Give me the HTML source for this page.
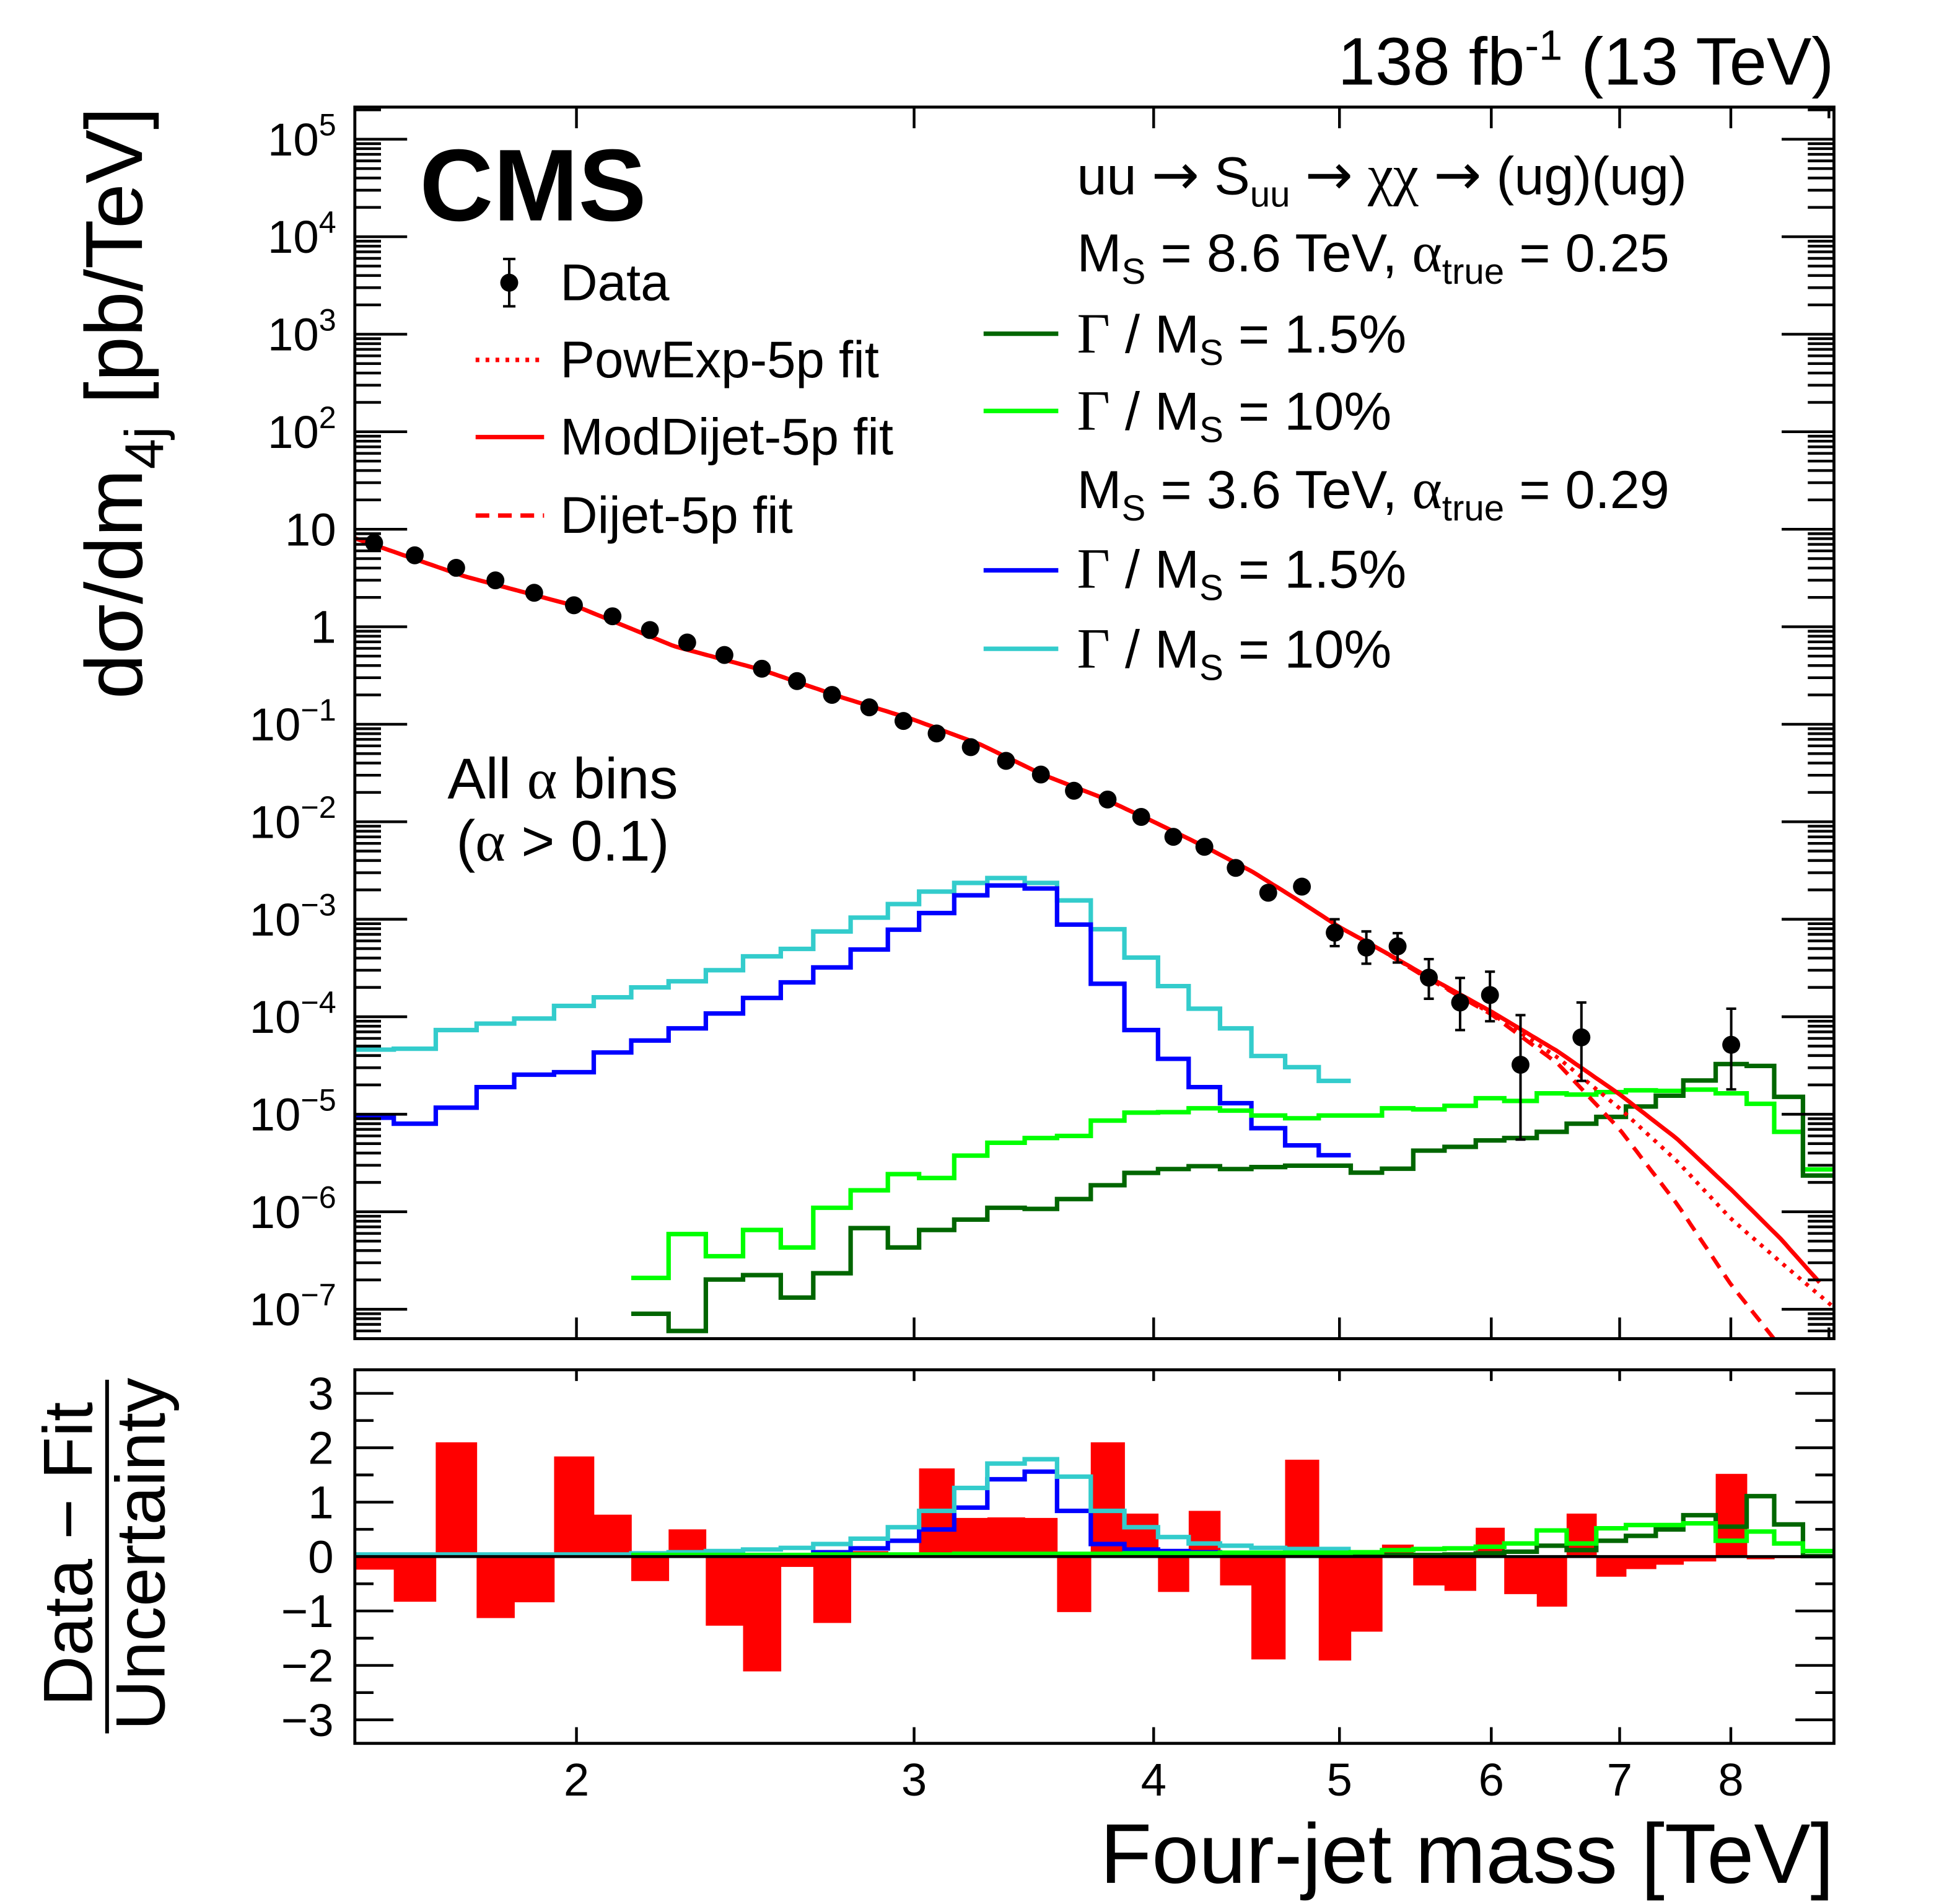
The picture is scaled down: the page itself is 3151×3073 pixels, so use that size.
<!DOCTYPE html>
<html><head><meta charset="utf-8">
<style>
html,body{margin:0;padding:0;background:#fff;}
svg{display:block;}
text{font-family:"Liberation Sans",Arial,sans-serif;fill:#000;}
.serif{font-family:"Liberation Serif","DejaVu Serif",serif;}
.arr{font-family:"DejaVu Sans",sans-serif;}
</style></head>
<body>
<svg id="chart" width="3151" height="3073" viewBox="0 0 1567.8 1529.0" xmlns="http://www.w3.org/2000/svg">
<defs>
<clipPath id="clipTop"><rect x="285" y="86" width="1188" height="989"/></clipPath>
<clipPath id="clipBot"><rect x="285" y="1100" width="1188" height="300"/></clipPath>
</defs>
<g id="gTop"></g>
<g id="gBot"></g>
<g id="gText">
<text x="1473" y="68" font-size="54" text-anchor="end">138 fb<tspan dy="-20" font-size="34">-1</tspan><tspan dy="20"> (13 TeV)</tspan></text>
<text x="337" y="177" font-size="82" font-weight="bold">CMS</text>
<text transform="translate(114,86) rotate(-90)" font-size="65" text-anchor="end">dσ/dm<tspan dy="17" font-size="44">4j</tspan><tspan dy="-17"> [pb/TeV]</tspan></text>
<text x="1473" y="1512" font-size="68" text-anchor="end">Four-jet mass [TeV]</text>
<text transform="translate(74,1248) rotate(-90)" font-size="56" text-anchor="middle">Data − Fit</text>
<line x1="86" y1="1108" x2="86" y2="1392" stroke="#000" stroke-width="3"/>
<text transform="translate(132,1248) rotate(-90)" font-size="56" text-anchor="middle">Uncertainty</text>
<text x="452" y="641" font-size="46" text-anchor="middle">All <tspan class="serif">α</tspan> bins</text>
<text x="452" y="691" font-size="46" text-anchor="middle">(<tspan class="serif">α</tspan> &gt; 0.1)</text>
</g>
<g id="gLegend"></g>
</svg>
<script>
// ---- data arrays ----
const binEdges = [1.532,1.606,1.689,1.774,1.856,1.947,2.042,2.136,2.234,2.336,2.443,2.556,2.658,2.780,2.907,3.018,3.148,3.276,3.426,3.562,3.709,3.862,4.021,4.172,4.332,4.498,4.684,4.877,5.068,5.262,5.463,5.672,5.889,6.094,6.337,6.568,6.806,7.053,7.311,7.556,7.856,8.154,8.427,8.724,9.05];
const dataVals = [7.24,5.40,4.02,2.99,2.23,1.66,1.28,0.925,0.689,0.513,0.371,0.277,0.200,0.149,0.108,0.0804,0.0582,0.0421,0.0305,0.0208,0.0169,0.0112,0.0070,0.00553,0.00336,0.00187,0.00216,7.28e-4,5.12e-4,5.27e-4,2.52e-4,1.40e-4,1.67e-4,3.22e-5,null,6.15e-5,null,null,null,null,5.16e-5,null,null,null];
const dataHi = [null,null,null,null,null,null,null,null,null,null,null,null,null,null,null,null,null,null,null,null,null,null,null,null,null,null,null,1.0e-3,7.5e-4,7.2e-4,3.9e-4,2.5e-4,2.9e-4,1.04e-4,null,1.4e-4,null,null,null,null,1.21e-4,null,null,null];
const dataLo = [null,null,null,null,null,null,null,null,null,null,null,null,null,null,null,null,null,null,null,null,null,null,null,null,null,null,null,5.3e-4,3.5e-4,3.6e-4,1.53e-4,7.3e-5,9.0e-5,5.5e-6,null,2.2e-5,null,null,null,null,1.8e-5,null,null,null];
const fitMass = [1.532,1.75,2,2.25,2.5,2.75,3,3.25,3.5,3.75,4,4.25,4.5,4.75,5,5.25,5.5,6,6.5,7,7.5,8,8.5,9.05];
const fitModDijet = [8.1,3.27,1.62,0.63,0.36,0.189,0.111,0.0618,0.0305,0.018,0.0100,5.6e-3,3.1e-3,1.6e-3,8.3e-4,4.9e-4,2.9e-4,1.13e-4,4.4e-5,1.6e-5,5.6e-6,1.7e-6,5.2e-7,1.3e-7];
const fitPowExp = [8.1,3.27,1.62,0.63,0.36,0.189,0.111,0.0618,0.0305,0.018,0.0100,5.6e-3,3.1e-3,1.6e-3,8.3e-4,4.9e-4,2.85e-4,1.08e-4,3.8e-5,1.15e-5,3.3e-6,8.5e-7,3.0e-7,1.05e-7];
const fitDijet = [8.1,3.27,1.62,0.63,0.36,0.189,0.111,0.0618,0.0305,0.018,0.0100,5.6e-3,3.1e-3,1.6e-3,8.3e-4,4.9e-4,2.8e-4,1.06e-4,3.3e-5,7.0e-6,1.2e-6,1.8e-7,4.0e-8,5.0e-9];
const fitEndMass = [8.9, 9.03, 9.05];
// signals: start bin index + values
const cyanStart = 0;
const cyanVals = [4.6e-5,4.7e-5,7.3e-5,8.5e-5,9.6e-5,1.29e-4,1.58e-4,2.0e-4,2.31e-4,3.0e-4,4.16e-4,4.97e-4,7.5e-4,1.04e-3,1.43e-3,1.92e-3,2.36e-3,2.65e-3,2.36e-3,1.56e-3,7.9e-4,4.04e-4,2.06e-4,1.21e-4,7.6e-5,3.96e-5,3.04e-5,2.2e-5];
const blueStart = 0;
const blueVals = [9.2e-6,8.0e-6,1.17e-5,1.9e-5,2.55e-5,2.7e-5,4.3e-5,5.7e-5,7.6e-5,1.08e-4,1.56e-4,2.25e-4,3.2e-4,4.9e-4,7.8e-4,1.16e-3,1.76e-3,2.22e-3,2.07e-3,8.8e-4,2.18e-4,7.3e-5,3.7e-5,1.9e-5,1.3e-5,7.2e-6,4.8e-6,3.8e-6];
const lgreenStart = 7;
const lgreenVals = [2.1e-7,5.9e-7,3.5e-7,6.5e-7,4.3e-7,1.1e-6,1.66e-6,2.43e-6,2.22e-6,3.77e-6,5.1e-6,5.7e-6,6.0e-6,8.6e-6,1.04e-5,1.05e-5,1.15e-5,1.09e-5,9.7e-6,9.1e-6,9.7e-6,9.7e-6,1.15e-5,1.12e-5,1.22e-5,1.46e-5,1.37e-5,1.64e-5,1.59e-5,1.69e-5,1.76e-5,1.74e-5,1.79e-5,1.64e-5,1.28e-5,6.6e-6,2.72e-6];
const dgreenStart = 7;
const dgreenVals = [9.0e-8,6.0e-8,2.02e-7,2.24e-7,1.32e-7,2.34e-7,6.8e-7,4.3e-7,6.5e-7,8.3e-7,1.1e-6,1.07e-6,1.35e-6,1.87e-6,2.5e-6,2.74e-6,2.93e-6,2.74e-6,2.87e-6,2.97e-6,2.97e-6,2.52e-6,2.77e-6,4.24e-6,4.63e-6,5.4e-6,5.7e-6,6.6e-6,8.0e-6,9.4e-6,1.2e-5,1.55e-5,2.22e-5,3.27e-5,3.13e-5,1.51e-5,2.35e-6];
// ratio panel
const pullVals = [-0.24,-0.83,2.10,-1.13,-0.84,1.84,0.77,-0.45,0.50,-1.27,-2.11,-0.19,-1.22,0.10,0.05,1.62,0.71,0.72,0.71,-1.02,2.10,0.79,-0.65,0.84,-0.53,-1.89,1.78,-1.91,-1.38,0.22,-0.53,-0.63,0.53,-0.69,-0.92,0.79,-0.37,-0.23,-0.15,-0.09,1.52,-0.05,-0.03,0.0];
const cyanR = [0.04,0.04,0.04,0.04,0.04,0.04,0.04,0.06,0.08,0.1,0.13,0.16,0.23,0.33,0.54,0.84,1.26,1.71,1.79,1.47,0.84,0.54,0.36,0.24,0.2,0.16,0.14,0.14];
const blueR = [0.02,0.02,0.02,0.02,0.02,0.02,0.02,0.02,0.02,0.02,0.02,0.02,0.08,0.15,0.29,0.5,0.9,1.42,1.56,0.84,0.23,0.13,0.1,0.08,0.05,0.04,0.03,0.03];
const dgreenR = [0.02,0.02,0.02,0.02,0.02,0.02,0.02,0.02,0.02,0.02,0.02,0.02,0.02,0.02,0.03,0.03,0.03,0.03,0.03,0.03,0.03,0.03,0.03,0.03,0.04,0.06,0.09,0.2,0.12,0.29,0.38,0.5,0.76,0.55,1.11,0.59,0.01];
const lgreenR = [0.03,0.03,0.03,0.03,0.03,0.04,0.04,0.04,0.04,0.05,0.05,0.05,0.05,0.05,0.06,0.06,0.06,0.07,0.07,0.07,0.07,0.08,0.12,0.14,0.15,0.18,0.24,0.48,0.24,0.52,0.58,0.58,0.61,0.29,0.46,0.24,0.1];
const xTicks = [2,3,4,5,6,7,8];
const yDecades = [-7,-6,-5,-4,-3,-2,-1,0,1,2,3,4,5];
const rTicks = [3,2,1,0,-1,-2,-3];

// ---- axis functions ----
const NS='http://www.w3.org/2000/svg';
const X0=285, X1=1473, TY0=86, TY1=1075, BY0=1100, BY1=1400;
const X = m => 463 + 1540*(Math.log10(m) - Math.log10(2));
const Y = v => 425 - 78.3*(Math.log10(v) - 1);
const R = r => 1250 - 43.7*r;
function mk(tag, attrs, parent){const e=document.createElementNS(NS,tag);for(const k in attrs)e.setAttribute(k,attrs[k]);parent.appendChild(e);return e;}
const gTop=document.getElementById('gTop'), gBot=document.getElementById('gBot'), gLeg=document.getElementById('gLegend');

// ---- main panel ----
const topClip = mk('g',{'clip-path':'url(#clipTop)'},gTop);



function histPath(start, vals, fn){
  let d='';
  vals.forEach((v,i)=>{const b=start+i;const x0=X(binEdges[b]),x1=X(binEdges[b+1]),y=fn(v);
    d += (i===0?'M':'L')+x0.toFixed(1)+','+y.toFixed(1)+'L'+x1.toFixed(1)+','+y.toFixed(1);});
  return d;
}
function addHist(parent,start,vals,fn,color,name){
  const p=mk('path',{d:histPath(start,vals,fn),fill:'none',stroke:color,'stroke-width':3.6,'stroke-linejoin':'miter'},parent);
  
  
}
addHist(topClip,cyanStart,cyanVals,Y,'#33cccc','signal-3p6-width10');
addHist(topClip,blueStart,blueVals,Y,'#0000ff','signal-3p6-width1p5');
addHist(topClip,lgreenStart,lgreenVals,Y,'#00ff00','signal-8p6-width10');
addHist(topClip,dgreenStart,dgreenVals,Y,'#006600','signal-8p6-width1p5');

function fitPath(vals,mEnd){
  let d='';
  for(let i=0;i<=300;i++){
    const lm=Math.log10(fitMass[0])+(Math.log10(mEnd)-Math.log10(fitMass[0]))*i/300;
    const m=Math.pow(10,lm);
    let k=0;while(k<fitMass.length-2 && m>fitMass[k+1])k++;
    const t=(Math.log10(m)-Math.log10(fitMass[k]))/(Math.log10(fitMass[k+1])-Math.log10(fitMass[k]));
    const lv=Math.log10(vals[k])+t*(Math.log10(vals[k+1])-Math.log10(vals[k]));
    d+=(i?'L':'M')+X(m).toFixed(1)+','+Y(Math.pow(10,lv)).toFixed(1);
  }
  return d;
}
const fDash=mk('path',{d:fitPath(fitDijet,fitEndMass[2]),fill:'none',stroke:'#ff0000','stroke-width':3.2,'stroke-dasharray':'11 7'},topClip);


const fDot=mk('path',{d:fitPath(fitPowExp,fitEndMass[1]),fill:'none',stroke:'#ff0000','stroke-width':3.2,'stroke-dasharray':'3 5'},topClip);


const fSol=mk('path',{d:fitPath(fitModDijet,fitEndMass[0]),fill:'none',stroke:'#ff0000','stroke-width':3.4},topClip);



dataVals.forEach((v,b)=>{
  if(v===null)return;
  const cx=(X(binEdges[b])+X(binEdges[b+1]))/2, cy=Y(v);
  if(dataHi[b]!==null){
    const e=mk('path',{d:`M${cx},${Y(dataHi[b])}L${cx},${Y(dataLo[b])}M${cx-4},${Y(dataHi[b])}L${cx+4},${Y(dataHi[b])}M${cx-4},${Y(dataLo[b])}L${cx+4},${Y(dataLo[b])}`,stroke:'#000','stroke-width':2,fill:'none'},topClip);
    
    
  }
  const c=mk('circle',{cx:cx,cy:cy,r:7.2,fill:'#000'},topClip);
  
  
});

// main frame & ticks
const frT=mk('rect',{x:X0,y:TY0,width:X1-X0,height:TY1-TY0,fill:'none',stroke:'#000','stroke-width':2.4},gTop);


let td='';
const lmin=Math.log10(1e-7)-0.3, lmax=5.32;
for(let d=-8; d<=5; d++){
  for(let k=1;k<=9;k++){
    const lv=d+Math.log10(k); if(lv<lmin||lv>lmax)continue;
    const y=Y(Math.pow(10,lv)); if(y<TY0||y>TY1)continue;
    const L=k===1?42:21;
    td+=`M${X0},${y}L${X0+L},${y}M${X1},${y}L${X1-L},${y}`;
  }
}
xTicks.forEach(m=>{const x=X(m);td+=`M${x},${TY1}L${x},${TY1-17}M${x},${TY0}L${x},${TY0+17}`;});
td+=`M${X(9)},${TY1}L${X(9)},${TY1-9}M${X(9)},${TY0}L${X(9)},${TY0+9}`;
const tp=mk('path',{d:td,stroke:'#000','stroke-width':2.2,fill:'none'},gTop);



yDecades.forEach(d=>{
  const y=Y(Math.pow(10,d));
  const t=mk('text',{x:270,y:y+13,'font-size':37,'text-anchor':'end'},gTop);
  
  
  if(d===0)t.textContent='1';
  else if(d===1)t.textContent='10';
  else{
    t.appendChild(document.createTextNode('10'));
    const s=mk('tspan',{dy:-16,'font-size':25},t);s.textContent=(d<0?'−':'')+Math.abs(d);
  }
});

// ---- ratio panel ----
const botClip=mk('g',{'clip-path':'url(#clipBot)'},gBot);


pullVals.forEach((v,b)=>{
  if(v===0)return;
  const x0=X(binEdges[b]),x1=X(binEdges[b+1]);
  const r=mk('rect',{x:x0,y:Math.min(R(v),R(0)),width:x1-x0+0.4,height:Math.abs(R(v)-R(0)),fill:'#ff0000'},botClip);
  
  
});
addHist(botClip,blueStart,blueR,R,'#0000ff','ratio-signal-3p6-width1p5');
addHist(botClip,cyanStart,cyanR,R,'#33cccc','ratio-signal-3p6-width10');
addHist(botClip,dgreenStart,dgreenR,R,'#006600','ratio-signal-8p6-width1p5');
addHist(botClip,lgreenStart,lgreenR,R,'#00ff00','ratio-signal-8p6-width10');
const zl=mk('line',{x1:X0,x2:X1,y1:R(0),y2:R(0),stroke:'#000','stroke-width':2.4},botClip);



const frB=mk('rect',{x:X0,y:BY0,width:X1-X0,height:BY1-BY0,fill:'none',stroke:'#000','stroke-width':2.4},gBot);


let bd='';
for(let r=-3.5;r<=3.5;r+=0.5){const y=R(r);if(y<BY0||y>BY1)continue;const L=Number.isInteger(r)?31:15;bd+=`M${X0},${y}L${X0+L},${y}M${X1},${y}L${X1-L},${y}`;}
xTicks.forEach(m=>{const x=X(m);bd+=`M${x},${BY1}L${x},${BY1-13}M${x},${BY0}L${x},${BY0+9}`;});
const bp=mk('path',{d:bd,stroke:'#000','stroke-width':2.2,fill:'none'},gBot);


rTicks.forEach(r=>{
  const t=mk('text',{x:268,y:R(r)+13,'font-size':37,'text-anchor':'end'},gBot);
  
  
  t.textContent=(r<0?'−':'')+Math.abs(r);
});
xTicks.forEach(m=>{
  const t=mk('text',{x:X(m),y:1442,'font-size':37,'text-anchor':'middle'},gBot);
  
  
  t.textContent=String(m);
});

// ---- legend ----
const dm=mk('path',{d:'M409,208L409,246M404,208L414,208M404,246L414,246',stroke:'#000','stroke-width':2},gLeg);


const dc=mk('circle',{cx:409,cy:227,r:7.2,fill:'#000'},gLeg);


function legText(x,y,txt,name,fs){const t=mk('text',{x:x,y:y,'font-size':fs||41.5},gLeg);t.innerHTML=txt;return t;}
legText(450,241,'Data','legend-data-label');
function legLine(x0,x1,y,color,dash,name){const l=mk('line',{x1:x0,x2:x1,y1:y,y2:y,stroke:color,'stroke-width':3.6},gLeg);if(dash)l.setAttribute('stroke-dasharray',dash);}
legLine(382,437,289,'#ff0000','3 5','legend-powexp-line');
legText(450,303,'PowExp-5p fit','legend-powexp-label');
legLine(382,437,351,'#ff0000',null,'legend-moddijet-line');
legText(450,365,'ModDijet-5p fit','legend-moddijet-label');
legLine(382,437,414,'#ff0000','11 7','legend-dijet-line');
legText(450,428,'Dijet-5p fit','legend-dijet-label');
const RF=43, SB='font-size="29"';
legText(865,156,`uu <tspan class="arr" font-size="46">→</tspan> S<tspan dy="10" ${SB}>uu</tspan><tspan dy="-10"> </tspan><tspan class="arr" font-size="46">→</tspan> <tspan class="serif" font-size="46">χχ</tspan> <tspan class="arr" font-size="46">→</tspan> (ug)(ug)`,'legend-process-label',RF);
legText(865,218,`M<tspan dy="10" ${SB}>S</tspan><tspan dy="-10"> = 8.6 TeV, </tspan><tspan class="serif" font-size="46">α</tspan><tspan dy="10" ${SB}>true</tspan><tspan dy="-10"> = 0.25</tspan>`,'legend-ms86-header',RF);
legLine(790,850,268,'#006600',null,'legend-86-w15-line');
legText(865,283,`<tspan class="serif" font-size="46">Γ</tspan> / M<tspan dy="10" ${SB}>S</tspan><tspan dy="-10"> = 1.5%</tspan>`,'legend-86-w15-label',RF);
legLine(790,850,330,'#00ff00',null,'legend-86-w10-line');
legText(865,345,`<tspan class="serif" font-size="46">Γ</tspan> / M<tspan dy="10" ${SB}>S</tspan><tspan dy="-10"> = 10%</tspan>`,'legend-86-w10-label',RF);
legText(865,408,`M<tspan dy="10" ${SB}>S</tspan><tspan dy="-10"> = 3.6 TeV, </tspan><tspan class="serif" font-size="46">α</tspan><tspan dy="10" ${SB}>true</tspan><tspan dy="-10"> = 0.29</tspan>`,'legend-ms36-header',RF);
legLine(790,850,458,'#0000ff',null,'legend-36-w15-line');
legText(865,472,`<tspan class="serif" font-size="46">Γ</tspan> / M<tspan dy="10" ${SB}>S</tspan><tspan dy="-10"> = 1.5%</tspan>`,'legend-36-w15-label',RF);
legLine(790,850,521,'#33cccc',null,'legend-36-w10-line');
legText(865,536,`<tspan class="serif" font-size="46">Γ</tspan> / M<tspan dy="10" ${SB}>S</tspan><tspan dy="-10"> = 10%</tspan>`,'legend-36-w10-label',RF);
</script>
</body></html>
